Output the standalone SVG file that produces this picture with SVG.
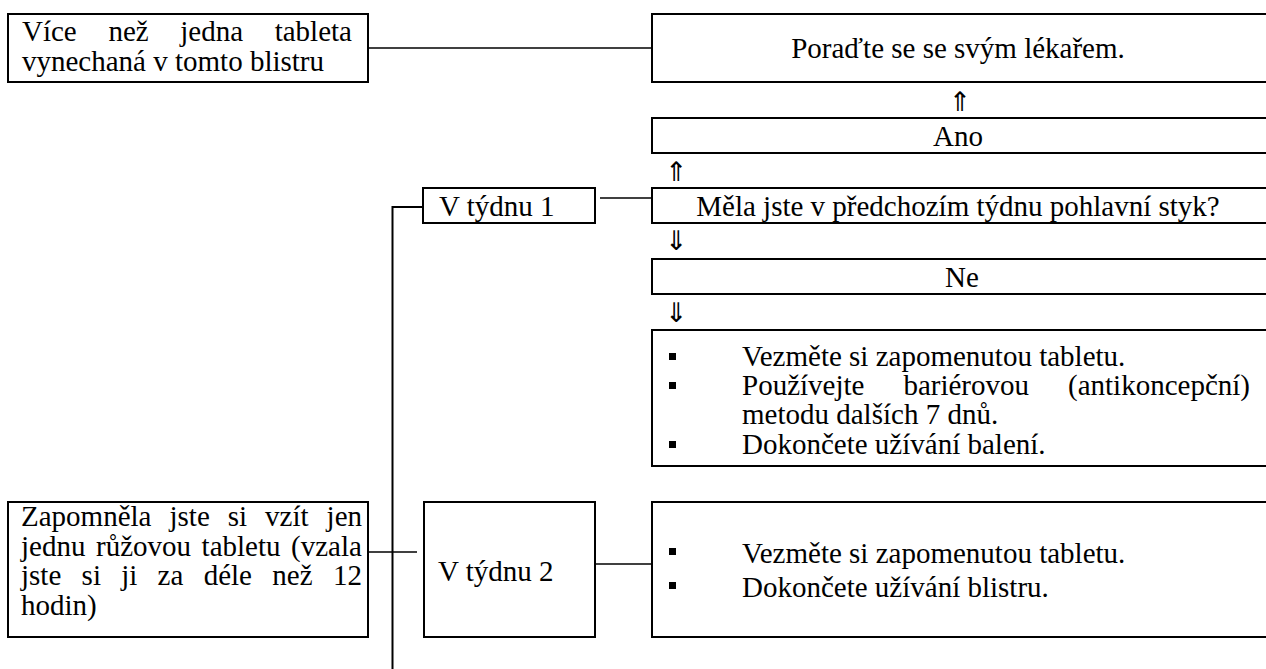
<svg xmlns="http://www.w3.org/2000/svg" width="1266" height="669" viewBox="0 0 1266 669">
<style>
  .box { fill: #fff; stroke: #000; stroke-width: 2; }
  .t { font-family: "Liberation Serif", "Times New Roman", Tinos, "DejaVu Serif", serif; font-size: 29px; fill: #000; }
  .c { text-anchor: middle; }
  .arr { font-family: "DejaVu Sans", sans-serif; font-size: 27px; fill: #000; }
  .conn line, .conn path { stroke: #000; fill: none; }
  .thin { stroke-width: 1.3; }
  .thick { stroke-width: 2; }
  .b { fill: #000; }
</style>
<rect width="1266" height="669" fill="#fff"/>

<g id="connectors" class="conn">
  <line class="thin" x1="368" y1="48" x2="652" y2="48"/>
  <line class="thin" x1="600" y1="198" x2="652" y2="198"/>
  <path class="thick" d="M422,207 H392.5 V669"/>
  <line class="thin" x1="368" y1="552" x2="417" y2="552"/>
  <line class="thin" x1="595" y1="564" x2="652" y2="564"/>
</g>

<g id="node-vice">
  <rect class="box" x="8" y="14" width="360" height="68"/>
  <text class="t" y="41"><tspan x="22">Více</tspan><tspan x="108.4">než</tspan><tspan x="180.3">jedna</tspan><tspan x="274.7">tableta</tspan></text>
  <text class="t" x="22" y="71">vynechaná v tomto blistru</text>
</g>

<g id="node-poradte">
  <rect class="box" x="652" y="14" width="630" height="68"/>
  <text class="t c" x="958" y="58">Poraďte se se svým lékařem.</text>
</g>

<g id="arrow-up-1"><text class="arr c" x="960" y="111">⇑</text></g>

<g id="node-ano">
  <rect class="box" x="652" y="118" width="630" height="35"/>
  <text class="t c" x="958" y="146">Ano</text>
</g>

<g id="arrow-up-2"><text class="arr" x="665" y="181">⇑</text></g>

<g id="node-tyden1">
  <rect class="box" x="423" y="188" width="172" height="35"/>
  <text class="t" x="439" y="216">V týdnu 1</text>
</g>

<g id="node-mela">
  <rect class="box" x="652" y="188" width="630" height="35"/>
  <text class="t c" x="958" y="216">Měla jste v předchozím týdnu pohlavní styk?</text>
</g>

<g id="arrow-down-1"><text class="arr" x="665" y="250">⇓</text></g>

<g id="node-ne">
  <rect class="box" x="652" y="259" width="630" height="35"/>
  <text class="t c" x="962" y="287">Ne</text>
</g>

<g id="arrow-down-2"><text class="arr" x="665" y="322">⇓</text></g>

<g id="node-postup1">
  <rect class="box" x="652" y="330" width="630" height="136"/>
  <rect class="b" x="669" y="353" width="7" height="7"/>
  <rect class="b" x="669" y="382" width="7" height="7"/>
  <rect class="b" x="669" y="441" width="7" height="7"/>
  <text class="t" x="742" y="366">Vezměte si zapomenutou tabletu.</text>
  <text class="t" y="395"><tspan x="742">Používejte</tspan><tspan x="903.4">bariérovou</tspan><tspan x="1068">(antikoncepční)</tspan></text>
  <text class="t" x="742" y="424">metodu dalších 7 dnů.</text>
  <text class="t" x="742" y="454">Dokončete užívání balení.</text>
</g>

<g id="node-zapomnela">
  <rect class="box" x="8" y="502" width="360" height="135"/>
  <text class="t" y="526"><tspan x="21">Zapomněla</tspan><tspan x="169.5">jste</tspan><tspan x="227.8">si</tspan><tspan x="265.1">vzít</tspan><tspan x="326.6">jen</tspan></text>
  <text class="t" y="555.5"><tspan x="21">jednu</tspan><tspan x="96">růžovou</tspan><tspan x="201.6">tabletu</tspan><tspan x="291.1">(vzala</tspan></text>
  <text class="t" y="585"><tspan x="21">jste</tspan><tspan x="81.6">si</tspan><tspan x="121.2">ji</tspan><tspan x="157.6">za</tspan><tspan x="203.7">déle</tspan><tspan x="272.3">než</tspan><tspan x="332.9">12</tspan></text>
  <text class="t" x="21" y="614.5">hodin)</text>
</g>

<g id="node-tyden2">
  <rect class="box" x="424" y="502" width="171" height="135"/>
  <text class="t" x="438" y="581">V týdnu 2</text>
</g>

<g id="node-postup2">
  <rect class="box" x="652" y="502" width="630" height="135"/>
  <rect class="b" x="669" y="548" width="7" height="7"/>
  <rect class="b" x="669" y="582" width="7" height="7"/>
  <text class="t" x="742" y="563">Vezměte si zapomenutou tabletu.</text>
  <text class="t" x="742" y="597">Dokončete užívání blistru.</text>
</g>
</svg>
